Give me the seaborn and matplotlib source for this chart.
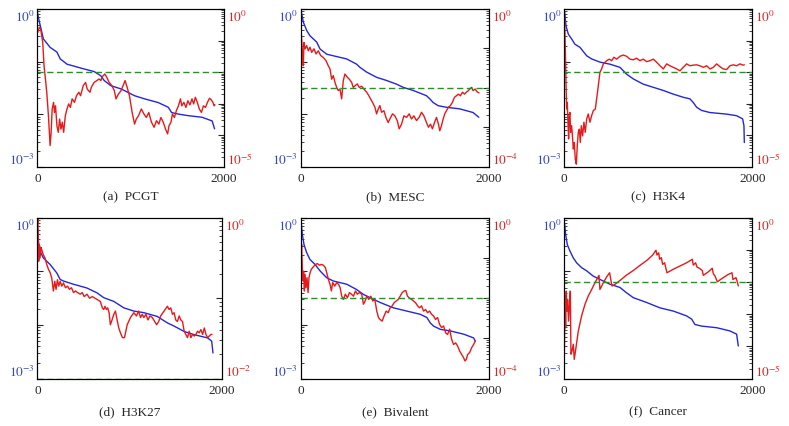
import numpy as np
import pandas as pd
import seaborn as sns
import matplotlib
matplotlib.use("Agg")
from matplotlib import pyplot as plt
from matplotlib.ticker import LogLocator, NullFormatter

BLUE = "#2626d9"
RED = "#e61a1a"
GREEN = "#2e8b2e"
LABEL_BLUE = "#3344cc"
LABEL_RED = "#dd2222"

captions = ["(a)  PCGT", "(b)  MESC", "(c)  H3K4", "(d)  H3K27", "(e)  Bivalent", "(f)  Cancer"]
right_min = [1e-5, 1e-4, 1e-5, 1e-2, 1e-4, 1e-5]
threshold = 1e-2

# values are read off log axes, stored as log10
# --- (a) PCGT
pcgt_blue_x = [0, 11, 65, 137, 210, 246, 318, 499, 608, 680, 716, 788, 897, 1042, 1150, 1295, 1403, 1439,
               1512, 1620, 1765, 1873, 1899]
pcgt_blue = [-0.05, -0.16, -0.57, -0.73, -0.82, -0.95, -1.05, -1.14, -1.19, -1.27, -1.36, -1.46, -1.52, -1.65,
             -1.71, -1.78, -1.87, -1.97, -2.00, -2.03, -2.06, -2.13, -2.28]
pcgt_red_x = [4, 22, 36, 47, 58, 72, 87, 101, 119, 137, 148, 159, 174, 184, 195, 210, 224, 239, 253, 268,
              282, 300, 318, 336, 354, 373, 398, 420, 445, 463, 492, 517, 535, 564, 579, 608, 637, 662, 680, 698,
              723, 745, 770, 799, 825, 843, 868, 897, 919, 940, 962, 987, 1016, 1042, 1060, 1085, 1114, 1143,
              1168, 1194, 1223, 1251, 1277, 1302, 1324, 1349, 1374, 1396, 1411, 1432, 1447, 1469, 1490, 1512,
              1534, 1548, 1570, 1592, 1613, 1635, 1657, 1675, 1693, 1714, 1736, 1758, 1780, 1801, 1823, 1845,
              1866, 1881, 1895, 1903]
pcgt_red = [-0.74, -0.58, -0.63, -0.85, -1.06, -1.80, -2.22, -2.64, -3.38, -4.33,
            -3.91, -3.17, -2.96, -3.28, -3.07, -3.70, -3.91, -3.49, -3.81, -3.59,
            -3.91, -3.38, -3.17, -3.01, -3.12, -2.85, -2.96, -2.75, -2.64, -2.75,
            -2.43, -2.33, -2.54, -2.64, -2.48, -2.33, -2.27, -2.22, -2.27, -2.14,
            -2.06, -2.17, -2.33, -2.43, -2.59, -2.85, -2.70, -2.59, -2.43, -2.27,
            -2.48, -2.75, -3.28, -3.65, -3.49, -3.38, -3.17, -3.33, -3.44, -3.28,
            -3.59, -3.75, -3.54, -3.65, -3.44, -3.59, -3.81, -3.96, -3.70, -3.59,
            -3.33, -3.44, -3.22, -3.07, -2.85, -3.07, -2.96, -3.12, -2.91, -3.04,
            -2.85, -3.01, -2.80, -2.96, -3.17, -3.28, -3.07, -3.12, -2.96, -2.83,
            -2.89, -2.96, -3.07, -3.04]

# --- (b) MESC
mesc_blue_x = [7, 28, 64, 99, 170, 205, 276, 346, 488, 594, 629, 700, 806, 912, 1018, 1088, 1195, 1336,
               1371, 1407, 1460, 1548, 1689, 1831, 1891]
mesc_blue = [-0.06, -0.25, -0.41, -0.51, -0.63, -0.76, -0.86, -0.89, -0.95, -1.05, -1.11, -1.20, -1.30,
             -1.36, -1.43, -1.49, -1.55, -1.65, -1.71, -1.78, -1.84, -1.87, -1.90, -1.97, -2.06]
mesc_red_x = [0, 7, 14, 21, 28, 35, 46, 64, 81, 99, 117, 141, 163, 187, 212, 240, 269, 293, 311, 329,
              346, 364, 382, 399, 417, 435, 452, 470, 495, 516, 541, 558, 576, 601, 622, 647, 671, 700, 724, 742,
              763, 788, 806, 823, 841, 859, 884, 905, 929, 947, 975, 1000, 1025, 1046, 1071, 1096, 1124, 1152,
              1177, 1202, 1230, 1258, 1283, 1308, 1336, 1357, 1378, 1399, 1421, 1442, 1463, 1477, 1495, 1513,
              1530, 1548, 1569, 1590, 1611, 1633, 1654, 1675, 1696, 1718, 1739, 1760, 1781, 1802, 1816, 1831,
              1852, 1873, 1894]
mesc_red = [-0.85, -0.63, -0.93, -1.18, -1.44, -0.85, -1.01, -0.93, -1.06, -0.97,
            -1.10, -1.01, -1.14, -1.06, -1.18, -1.23, -1.31, -1.44, -1.52, -1.78,
            -1.69, -1.86, -1.99, -2.07, -2.03, -2.28, -1.82, -1.65, -1.73, -1.78,
            -1.86, -1.99, -1.95, -1.90, -1.99, -1.96, -2.03, -2.11, -2.20, -2.28,
            -2.37, -2.49, -2.66, -2.54, -2.45, -2.62, -2.58, -2.75, -2.88, -2.79,
            -2.66, -2.71, -2.83, -3.04, -2.92, -2.71, -2.75, -2.66, -2.79, -2.71,
            -2.83, -2.75, -2.62, -2.71, -2.88, -3.00, -2.92, -3.04, -2.88, -2.75,
            -2.92, -3.09, -2.96, -2.79, -2.66, -2.58, -2.49, -2.45, -2.37, -2.24,
            -2.20, -2.16, -2.20, -2.11, -2.16, -2.11, -2.07, -2.01, -1.99, -2.07,
            -2.03, -2.10, -2.13]

# --- (c) H3K4
h3k4_blue_x = [4, 18, 43, 78, 113, 167, 238, 291, 379, 486, 592, 663, 734, 840, 947, 1053, 1160, 1266,
               1337, 1372, 1408, 1461, 1550, 1727, 1833, 1897, 1911, 1915]
h3k4_blue = [-0.06, -0.32, -0.48, -0.57, -0.67, -0.73, -0.89, -0.95, -1.01, -1.05, -1.11, -1.24, -1.33,
             -1.43, -1.49, -1.55, -1.62, -1.68, -1.71, -1.78, -1.87, -1.93, -1.97, -2.00, -2.03, -2.09,
             -2.22, -2.54]
h3k4_red_x = [0, 4, 11, 18, 25, 32, 39, 46, 53, 60, 67, 78, 89, 96, 106, 117, 128, 138, 149, 160, 170,
              181, 195, 209, 223, 238, 255, 273, 291, 309, 330, 344, 362, 379, 397, 415, 433, 450, 479, 504,
              528, 557, 592, 628, 663, 699, 734, 769, 805, 840, 876, 911, 947, 982, 1018, 1053, 1089, 1124,
              1160, 1195, 1230, 1266, 1301, 1337, 1372, 1408, 1443, 1479, 1514, 1550, 1585, 1621, 1656, 1691,
              1727, 1762, 1798, 1833, 1869, 1900, 1915]
h3k4_red = [-0.10,
            -0.42, -1.27, -2.33, -3.17, -2.96, -3.59, -4.12, -3.38, -3.28, -3.91,
            -3.70, -4.12, -4.44, -4.23, -4.76, -4.92, -4.33, -3.91, -3.81, -4.23,
            -3.70, -4.02, -3.59, -3.91, -3.49, -3.33, -3.59, -3.38, -3.22, -3.17,
            -2.85, -2.43, -2.01, -1.90, -1.74, -1.69, -1.64, -1.59, -1.64, -1.53,
            -1.59, -1.50, -1.46, -1.50, -1.59, -1.61, -1.56, -1.64, -1.59, -1.67,
            -1.64, -1.59, -1.69, -1.80, -1.90, -1.74, -1.80, -1.85, -1.90, -1.96,
            -1.85, -1.74, -1.80, -1.78, -1.77, -1.80, -1.85, -1.80, -1.90, -1.85,
            -1.74, -1.83, -1.90, -1.92, -1.80, -1.77, -1.80, -1.74, -1.78, -1.77]

# --- (d) H3K27
h3k27_blue_x = [4, 15, 29, 65, 138, 211, 247, 283, 392, 537, 646, 719, 828, 937, 1045, 1154, 1299, 1408,
                1481, 1590, 1699, 1844, 1888, 1902]
h3k27_blue = [-0.25, -0.50, -0.62, -0.75, -0.87, -1.03, -1.15, -1.18, -1.24, -1.31, -1.40, -1.49, -1.56,
              -1.68, -1.74, -1.77, -1.84, -1.96, -2.02, -2.12, -2.18, -2.24, -2.30, -2.52]
h3k27_red_x = [0, 7, 15, 22, 29, 40, 51, 65, 83, 102, 120, 138, 156, 174, 189, 203, 218, 232, 247, 265,
               283, 305, 327, 348, 370, 392, 414, 436, 465, 486, 508, 537, 566, 595, 624, 653, 682, 704, 719,
               733, 748, 762, 777, 791, 809, 828, 846, 864, 882, 900, 922, 944, 973, 1009, 1045, 1074, 1096,
               1118, 1136, 1154, 1176, 1198, 1220, 1245, 1271, 1292, 1314, 1336, 1372, 1408, 1427, 1445, 1463,
               1481, 1499, 1517, 1536, 1554, 1572, 1590, 1608, 1626, 1644, 1663, 1681, 1699, 1717, 1735, 1753,
               1771, 1790, 1808, 1826, 1844, 1862, 1880, 1891]
h3k27_red = [-0.08, -0.02, -0.54, -0.33, -0.50, -0.37, -0.41, -0.46, -0.50, -0.58,
             -0.64, -0.68, -0.75, -0.91, -0.79, -0.89, -0.77, -0.85, -0.79, -0.85,
             -0.81, -0.87, -0.85, -0.89, -0.87, -0.93, -0.91, -0.93, -0.95, -0.93,
             -0.98, -0.95, -1.00, -0.98, -1.00, -1.02, -1.04, -1.12, -1.14, -1.10,
             -1.14, -1.12, -1.18, -1.33, -1.27, -1.20, -1.16, -1.27, -1.37, -1.43,
             -1.49, -1.49, -1.33, -1.24, -1.18, -1.22, -1.16, -1.24, -1.20, -1.24,
             -1.20, -1.27, -1.22, -1.24, -1.29, -1.33, -1.29, -1.22, -1.16, -1.10,
             -1.14, -1.12, -1.20, -1.18, -1.27, -1.29, -1.22, -1.27, -1.29, -1.41,
             -1.45, -1.49, -1.41, -1.49, -1.45, -1.47, -1.45, -1.41, -1.43, -1.39,
             -1.45, -1.37, -1.45, -1.49, -1.47, -1.45, -1.45]

# --- (e) Bivalent
biv_blue_x = [4, 14, 32, 60, 96, 149, 202, 274, 345, 487, 593, 664, 735, 842, 984, 1126, 1268, 1339, 1375,
              1410, 1481, 1588, 1730, 1836, 1854]
biv_blue = [-0.12, -0.31, -0.50, -0.65, -0.78, -0.87, -0.99, -1.12, -1.18, -1.24, -1.34, -1.43, -1.49,
            -1.58, -1.68, -1.74, -1.80, -1.86, -1.96, -2.02, -2.08, -2.11, -2.17, -2.24, -2.30]
biv_red_x = [0, 7, 14, 21, 28, 36, 43, 53, 64, 75, 85, 96, 110, 124, 139, 156, 174, 195, 217, 238,
             259, 274, 291, 309, 323, 337, 359, 380, 401, 416, 433, 451, 472, 494, 515, 536, 558, 579, 600, 622,
             646, 664, 682, 700, 721, 742, 764, 785, 806, 824, 842, 863, 884, 906, 927, 948, 970, 991, 1012,
             1034, 1055, 1076, 1098, 1115, 1133, 1154, 1176, 1197, 1218, 1240, 1261, 1282, 1304, 1325, 1346,
             1368, 1389, 1410, 1431, 1453, 1474, 1495, 1517, 1538, 1559, 1581, 1602, 1623, 1645, 1666, 1687,
             1709, 1730, 1744, 1758, 1772, 1794, 1815, 1836, 1854]
biv_red = [-0.91, -0.66, -1.24, -1.57, -1.33, -1.82, -1.41, -1.74, -1.49, -1.86,
           -1.49, -1.37, -1.28, -1.24, -1.20, -1.16, -1.14, -1.18, -1.16, -1.18,
           -1.24, -1.37, -1.53, -1.66, -1.82, -1.61, -1.70, -1.61, -1.66, -1.74,
           -1.95, -2.03, -1.90, -1.99, -1.86, -1.90, -1.95, -1.82, -1.90, -1.86,
           -1.90, -2.15, -2.07, -1.95, -2.03, -1.95, -2.07, -2.03, -2.32, -2.48,
           -2.53, -2.57, -2.44, -2.32, -2.36, -2.24, -2.19, -2.11, -2.07, -2.03,
           -1.95, -1.86, -1.82, -1.81, -1.95, -2.00, -2.03, -2.07, -2.11, -2.19,
           -2.24, -2.19, -2.32, -2.28, -2.36, -2.32, -2.40, -2.44, -2.53, -2.48,
           -2.65, -2.73, -2.69, -2.86, -2.90, -2.77, -3.02, -3.15, -3.11, -3.19,
           -3.31, -3.40, -3.48, -3.56, -3.52, -3.40, -3.35, -3.23, -3.15, -3.06]

# --- (f) Cancer
cancer_blue_x = [4, 14, 32, 60, 96, 131, 184, 238, 309, 379, 486, 592, 663, 734, 876, 1018, 1160, 1301,
                 1355, 1390, 1461, 1621, 1762, 1833, 1851]
cancer_blue = [-0.12, -0.31, -0.50, -0.62, -0.75, -0.84, -0.93, -0.99, -1.09, -1.15, -1.24, -1.30, -1.40,
               -1.49, -1.58, -1.68, -1.74, -1.83, -1.89, -1.99, -2.02, -2.05, -2.11, -2.17, -2.39]
cancer_red_x = [0, 7, 14, 21, 28, 35, 46, 57, 64, 71, 82, 96, 106, 124, 149, 184, 220, 255, 291, 326,
                369, 379, 415, 450, 482, 507, 539, 592, 663, 734, 805, 876, 940, 975, 986, 1004, 1014, 1032,
                1046, 1067, 1092, 1160, 1230, 1301, 1362, 1372, 1397, 1411, 1436, 1468, 1479, 1532, 1574, 1585,
                1603, 1628, 1691, 1745, 1784, 1794, 1826, 1840, 1851]
cancer_red = [-4.35, -2.43, -3.42, -2.28, -2.90, -2.54, -3.21, -2.54, -2.28, -4.24,
              -4.14, -3.93, -4.40, -4.04, -3.52, -3.05, -2.69, -2.43, -2.23, -2.02,
              -1.79, -2.23, -2.02, -1.84, -1.71, -2.12, -2.07, -1.95, -1.78, -1.64,
              -1.48, -1.33, -1.16, -1.01, -1.16, -1.09, -1.29, -1.24, -1.45, -1.40,
              -1.71, -1.60, -1.50, -1.40, -1.29, -1.47, -1.40, -1.53, -1.57, -1.64,
              -1.79, -1.68, -1.57, -1.74, -1.81, -1.99, -1.86, -1.76, -1.71, -1.92,
              -1.86, -1.99, -2.12]

panels = [
    (pcgt_blue_x, pcgt_blue, pcgt_red_x, pcgt_red),
    (mesc_blue_x, mesc_blue, mesc_red_x, mesc_red),
    (h3k4_blue_x, h3k4_blue, h3k4_red_x, h3k4_red),
    (h3k27_blue_x, h3k27_blue, h3k27_red_x, h3k27_red),
    (biv_blue_x, biv_blue, biv_red_x, biv_red),
    (cancer_blue_x, cancer_blue, cancer_red_x, cancer_red),
]

# axes rectangles in figure fractions
rects = [
    [0.0473, 0.6073, 0.2366, 0.3693],
    [0.3811, 0.6073, 0.2387, 0.3693],
    [0.7152, 0.6073, 0.2383, 0.3693],
    [0.0473, 0.1108, 0.2341, 0.3770],
    [0.3815, 0.1108, 0.2383, 0.3770],
    [0.7152, 0.1108, 0.2383, 0.3770],
]
caption_y = [0.5386, 0.5386, 0.5386, 0.035, 0.035, 0.035]

FS = 9.5


def log_ticks(ax, lo, color):
    n = int(round(-np.log10(lo)))
    ticks = [10.0 ** (-k) for k in range(n, -1, -1)]
    labels = [""] * len(ticks)
    labels[0] = f"$10^{{-{n}}}$"
    labels[-1] = "$10^{0}$"
    ax.set_yticks(ticks)
    ax.set_yticklabels(labels)
    ax.yaxis.set_minor_locator(LogLocator(base=10, subs=np.arange(2, 10), numticks=20))
    ax.yaxis.set_minor_formatter(NullFormatter())
    tl = ax.get_yticklabels()
    tl[0].set_va("bottom")
    tl[-1].set_va("top")
    for t in tl:
        t.set_color(color)


def draw_panel(fig, rect, caption, cap_y, data, rmin):
    blue_x, blue_log, red_x, red_log = data
    ax = fig.add_axes(rect)
    ax2 = ax.twinx()

    blue = pd.DataFrame({"x": blue_x, "y": 10.0 ** np.asarray(blue_log)})
    red = pd.DataFrame({"x": red_x, "y": 10.0 ** np.asarray(red_log)})

    sns.lineplot(blue, x="x", y="y", ax=ax, color=BLUE, lw=1.0, estimator=None, sort=False)
    sns.lineplot(red, x="x", y="y", ax=ax2, color=RED, lw=1.0, estimator=None, sort=False)
    ax2.axhline(threshold, color=GREEN, lw=1.0, ls=(0, (4.5, 2.5)))

    ax.set_yscale("log")
    ax2.set_yscale("log")
    ax.set_xlim(0, 2000)
    ax.set_ylim(1e-3, 1)
    ax2.set_ylim(rmin, 1)
    for a in (ax, ax2):
        a.set_xlabel("")
        a.set_ylabel("")

    ax.set_xticks([0, 2000])
    ax.set_xticklabels(["0", "2000"])
    ax.tick_params(axis="x", length=0, labelsize=FS, pad=4)

    log_ticks(ax, 1e-3, LABEL_BLUE)
    log_ticks(ax2, rmin, LABEL_RED)
    ax.tick_params(axis="y", which="both", direction="in", left=True, right=False, labelsize=FS, pad=2)
    ax.tick_params(axis="y", which="major", length=4, width=0.8)
    ax.tick_params(axis="y", which="minor", length=2.5, width=0.6)
    ax2.tick_params(axis="y", which="both", direction="in", left=False, right=True, labelsize=FS, pad=2)
    ax2.tick_params(axis="y", which="major", length=4, width=0.8)
    ax2.tick_params(axis="y", which="minor", length=2.5, width=0.6)

    for a in (ax, ax2):
        for s in a.spines.values():
            s.set_visible(True)
            s.set_linewidth(0.8)
            s.set_color("black")

    cx = rect[0] + rect[2] / 2
    fig.text(cx, cap_y, caption, ha="center", va="center", fontsize=FS)


def main():
    sns.set_style("ticks")
    plt.rcParams["font.family"] = ["Liberation Serif", "DejaVu Serif"]
    plt.rcParams["mathtext.fontset"] = "stix"

    fig = plt.figure(figsize=(7.89, 4.27), dpi=100)
    for i in range(6):
        draw_panel(fig, rects[i], captions[i], caption_y[i], panels[i], right_min[i])
    fig.savefig("out.png", dpi=100)
    plt.close(fig)


if __name__ == '__main__':
    main()
